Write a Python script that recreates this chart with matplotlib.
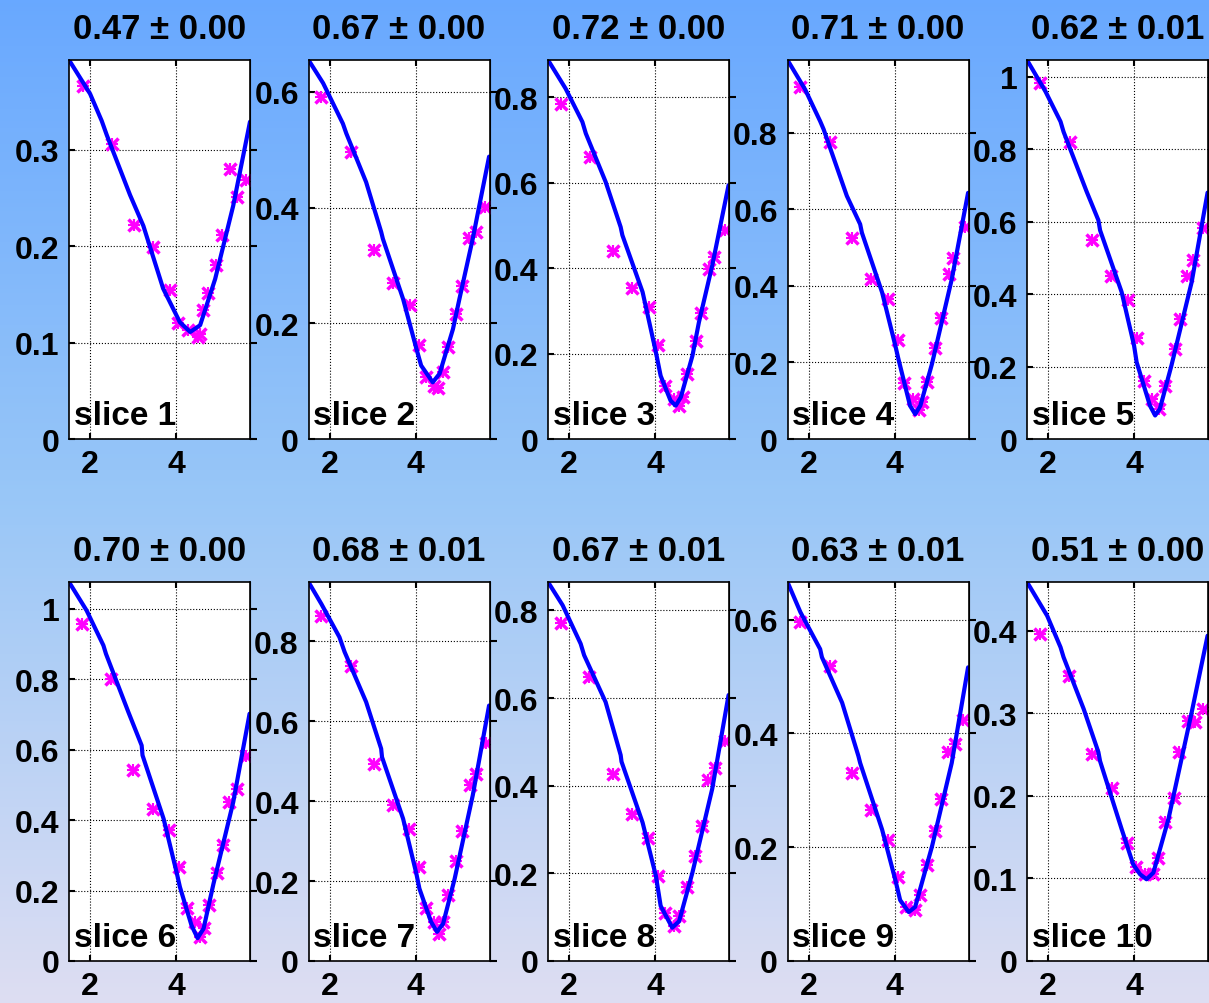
import numpy as np
import matplotlib
matplotlib.use('Agg')
import matplotlib.pyplot as plt
from matplotlib.colors import LinearSegmentedColormap
from matplotlib.ticker import FuncFormatter

# ---------------- data ----------------
fit_means = [0.47, 0.67, 0.72, 0.71, 0.62, 0.70, 0.68, 0.67, 0.63, 0.51]
fit_errs = [0.00, 0.00, 0.00, 0.00, 0.01, 0.00, 0.01, 0.01, 0.01, 0.00]
slice_names = ["slice %d" % i for i in range(1, 11)]
y_steps = [0.1, 0.2, 0.2, 0.2, 0.2, 0.2, 0.2, 0.2, 0.2, 0.1]
point_yerr = [0.006, 0.010, 0.012, 0.012, 0.014, 0.014, 0.012, 0.012, 0.010, 0.006]

curve_x1 = [1.51, 2.00, 2.27, 2.39, 2.93, 3.24, 3.70, 4.09, 4.33, 4.56, 4.91, 5.33, 5.72]
curve_y1 = [0.393, 0.358, 0.330, 0.315, 0.253, 0.221, 0.156, 0.121, 0.111, 0.118, 0.166, 0.242, 0.329]
pts_x1 = [1.83, 2.50, 3.03, 3.47, 3.86, 4.05, 4.28, 4.50, 4.56, 4.63, 4.75, 4.94, 5.06, 5.25, 5.41, 5.63]
pts_y1 = [0.366, 0.306, 0.222, 0.199, 0.154, 0.120, 0.113, 0.106, 0.109, 0.134, 0.151, 0.180, 0.212, 0.280, 0.251, 0.269]

curve_x2 = [1.51, 1.85, 2.31, 2.39, 2.85, 3.20, 3.24, 3.71, 4.02, 4.13, 4.40, 4.56, 4.87, 5.02, 5.33, 5.71]
curve_y2 = [0.655, 0.615, 0.545, 0.528, 0.444, 0.358, 0.346, 0.242, 0.156, 0.127, 0.098, 0.113, 0.190, 0.242, 0.346, 0.488]
pts_x2 = [1.81, 2.49, 3.03, 3.47, 3.86, 4.07, 4.25, 4.44, 4.53, 4.64, 4.75, 4.95, 5.09, 5.24, 5.40, 5.61]
pts_y2 = [0.591, 0.496, 0.327, 0.269, 0.231, 0.162, 0.108, 0.092, 0.088, 0.115, 0.159, 0.216, 0.264, 0.347, 0.358, 0.401]

curve_x3 = [1.51, 1.92, 2.31, 2.39, 2.85, 3.20, 3.24, 3.71, 4.02, 4.13, 4.36, 4.48, 4.60, 4.87, 5.02, 5.33, 5.71]
curve_y3 = [0.887, 0.820, 0.742, 0.715, 0.602, 0.496, 0.477, 0.344, 0.203, 0.148, 0.090, 0.078, 0.098, 0.195, 0.273, 0.406, 0.594]
pts_x3 = [1.81, 2.49, 3.03, 3.47, 3.86, 4.07, 4.22, 4.44, 4.56, 4.65, 4.75, 4.95, 5.06, 5.26, 5.37, 5.63]
pts_y3 = [0.785, 0.660, 0.441, 0.353, 0.309, 0.219, 0.125, 0.094, 0.078, 0.098, 0.152, 0.230, 0.295, 0.398, 0.426, 0.490]

curve_x4 = [1.51, 1.92, 2.27, 2.35, 2.89, 3.20, 3.24, 3.71, 4.02, 4.09, 4.36, 4.48, 4.60, 4.87, 5.33, 5.71]
curve_y4 = [0.990, 0.913, 0.830, 0.809, 0.635, 0.561, 0.539, 0.383, 0.243, 0.209, 0.087, 0.065, 0.087, 0.196, 0.417, 0.643]
pts_x4 = [1.79, 2.49, 3.01, 3.45, 3.84, 4.07, 4.22, 4.43, 4.56, 4.65, 4.75, 4.95, 5.08, 5.26, 5.37, 5.63]
pts_y4 = [0.919, 0.776, 0.524, 0.419, 0.365, 0.259, 0.146, 0.104, 0.076, 0.096, 0.148, 0.239, 0.317, 0.430, 0.472, 0.555]

curve_x5 = [1.51, 1.94, 2.29, 2.36, 2.90, 3.17, 3.21, 3.71, 4.00, 4.06, 4.37, 4.49, 4.60, 4.87, 5.34, 5.71]
curve_y5 = [1.046, 0.959, 0.876, 0.848, 0.682, 0.604, 0.576, 0.406, 0.258, 0.212, 0.092, 0.065, 0.083, 0.203, 0.433, 0.680]
pts_x5 = [1.81, 2.50, 3.02, 3.46, 3.85, 4.06, 4.23, 4.41, 4.58, 4.73, 4.95, 5.07, 5.24, 5.37, 5.61]
pts_y5 = [0.983, 0.820, 0.548, 0.449, 0.385, 0.279, 0.161, 0.111, 0.083, 0.147, 0.249, 0.330, 0.449, 0.493, 0.581]

curve_x6 = [1.51, 1.92, 2.31, 2.37, 2.89, 3.20, 3.22, 3.71, 4.02, 4.09, 4.36, 4.50, 4.64, 4.87, 5.33, 5.71]
curve_y6 = [1.076, 0.995, 0.896, 0.872, 0.707, 0.612, 0.584, 0.404, 0.248, 0.210, 0.101, 0.065, 0.092, 0.219, 0.451, 0.702]
pts_x6 = [1.81, 2.49, 3.01, 3.47, 3.84, 4.07, 4.25, 4.44, 4.56, 4.65, 4.77, 4.95, 5.09, 5.24, 5.41, 5.63]
pts_y6 = [0.957, 0.801, 0.541, 0.432, 0.371, 0.267, 0.151, 0.111, 0.068, 0.095, 0.158, 0.250, 0.330, 0.451, 0.489, 0.582]

curve_x7 = [1.51, 1.81, 2.23, 2.35, 2.85, 3.20, 3.22, 3.71, 4.02, 4.09, 4.36, 4.50, 4.64, 4.91, 5.33, 5.71]
curve_y7 = [0.948, 0.893, 0.810, 0.773, 0.648, 0.531, 0.510, 0.356, 0.218, 0.181, 0.098, 0.073, 0.093, 0.206, 0.414, 0.639]
pts_x7 = [1.81, 2.49, 3.03, 3.47, 3.84, 4.07, 4.25, 4.44, 4.54, 4.64, 4.75, 4.95, 5.09, 5.26, 5.40, 5.63]
pts_y7 = [0.864, 0.737, 0.493, 0.391, 0.331, 0.235, 0.133, 0.098, 0.068, 0.098, 0.164, 0.250, 0.324, 0.439, 0.467, 0.545]

curve_x8 = [1.51, 1.85, 2.27, 2.35, 2.85, 3.20, 3.22, 3.71, 4.02, 4.13, 4.40, 4.56, 4.87, 5.33, 5.71]
curve_y8 = [0.865, 0.812, 0.724, 0.698, 0.591, 0.470, 0.455, 0.316, 0.194, 0.126, 0.076, 0.091, 0.202, 0.393, 0.607]
pts_x8 = [1.81, 2.47, 3.03, 3.46, 3.84, 4.07, 4.22, 4.43, 4.56, 4.74, 4.93, 5.09, 5.24, 5.40, 5.63]
pts_y8 = [0.771, 0.649, 0.426, 0.336, 0.280, 0.194, 0.110, 0.080, 0.103, 0.169, 0.240, 0.309, 0.414, 0.441, 0.503]

curve_x9 = [1.51, 1.81, 2.27, 2.31, 2.78, 3.16, 3.20, 3.71, 4.02, 4.13, 4.33, 4.48, 4.87, 5.33, 5.71]
curve_y9 = [0.666, 0.613, 0.548, 0.534, 0.454, 0.360, 0.348, 0.231, 0.142, 0.107, 0.086, 0.095, 0.201, 0.348, 0.516]
pts_x9 = [1.81, 2.49, 3.01, 3.45, 3.84, 4.07, 4.26, 4.48, 4.60, 4.75, 4.95, 5.09, 5.24, 5.40, 5.60]
pts_y9 = [0.595, 0.519, 0.331, 0.266, 0.213, 0.148, 0.095, 0.089, 0.116, 0.169, 0.228, 0.284, 0.367, 0.382, 0.423]

curve_x10 = [1.51, 1.98, 2.29, 2.36, 2.83, 3.17, 3.21, 3.71, 3.98, 4.14, 4.29, 4.45, 4.80, 5.34, 5.71]
curve_y10 = [0.459, 0.418, 0.380, 0.368, 0.305, 0.253, 0.242, 0.160, 0.117, 0.105, 0.099, 0.107, 0.172, 0.301, 0.394]
pts_x10 = [1.81, 2.48, 3.02, 3.48, 3.83, 4.04, 4.25, 4.45, 4.56, 4.73, 4.93, 5.04, 5.26, 5.41, 5.61]
pts_y10 = [0.396, 0.345, 0.251, 0.210, 0.143, 0.114, 0.105, 0.105, 0.125, 0.168, 0.197, 0.253, 0.291, 0.289, 0.305]

curves_x = [curve_x1, curve_x2, curve_x3, curve_x4, curve_x5, curve_x6, curve_x7, curve_x8, curve_x9, curve_x10]
curves_y = [curve_y1, curve_y2, curve_y3, curve_y4, curve_y5, curve_y6, curve_y7, curve_y8, curve_y9, curve_y10]
points_x = [pts_x1, pts_x2, pts_x3, pts_x4, pts_x5, pts_x6, pts_x7, pts_x8, pts_x9, pts_x10]
points_y = [pts_y1, pts_y2, pts_y3, pts_y4, pts_y5, pts_y6, pts_y7, pts_y8, pts_y9, pts_y10]
x_ticks = [2, 4]
x_range = (1.51, 5.72)

# ---------------- figure ----------------
W, H = 1209, 1004
fig = plt.figure(figsize=(W / 100, H / 100), dpi=100)
FONT = ['Liberation Sans', 'DejaVu Sans']
plt.rcParams['font.family'] = FONT

# gradient background
bg = fig.add_axes([0, 0, 1, 1], zorder=-10)
cmap = LinearSegmentedColormap.from_list(
    'bg', [(0.0, (0.41, 0.66, 1.0)), (0.5, (0.60, 0.78, 0.97)), (1.0, (0.87, 0.87, 0.95))])
grad = np.linspace(0, 1, 256).reshape(-1, 1)
bg.imshow(grad, aspect='auto', cmap=cmap, extent=[0, 1, 0, 1], origin='upper')
bg.set_axis_off()

ax_w, ax_h = 181, 379
lefts = [69 + 239.5 * i for i in range(5)]
tops = [61, 583]

def fmt(v, pos):
    return ('%g' % round(v, 6))

for k in range(10):
    r, c = divmod(k, 5)
    left = lefts[c]
    top = tops[r]
    ax = fig.add_axes([left / W, 1 - (top + ax_h) / H, ax_w / W, ax_h / H])
    ax.set_facecolor('white')
    ax.errorbar(points_x[k], points_y[k], xerr=0.06, yerr=point_yerr[k], fmt='x',
                color='#ff00ff', ms=8, mew=2.5, elinewidth=1.5, capsize=0, zorder=3)
    ax.plot(points_x[k], points_y[k], linestyle='none', marker='+', color='#ff00ff',
            ms=9, mew=1.5, zorder=3)
    ax.plot(curves_x[k], curves_y[k], color='#0000ff', lw=3, zorder=4,
            solid_joinstyle='round', solid_capstyle='round')
    ymax = max(curves_y[k])
    ax.set_xlim(*x_range)
    ax.set_ylim(0, ymax)
    ax.set_xticks(x_ticks)
    ax.set_yticks(np.arange(0, ymax + 1e-9, y_steps[k]))
    ax.yaxis.set_major_formatter(FuncFormatter(fmt))
    ax.grid(True, color='black', linestyle=':', linewidth=0.8)
    ax.set_axisbelow(False)
    for sp in ax.spines.values():
        sp.set_linewidth(1.2)
        sp.set_zorder(6)
    ax.tick_params(direction='in', length=4, width=1.5, top=True, right=False,
                   labelsize=23, pad=7)
    for lab in ax.get_xticklabels() + ax.get_yticklabels():
        lab.set_fontweight('bold')
    sec = ax.secondary_yaxis('right')
    sec.set_yticks(np.arange(0, ymax + 1e-9, y_steps[k]))
    sec.tick_params(direction='out', length=5, width=1.5, labelright=False)
    ax.set_title("%.2f ± %.2f" % (fit_means[k], fit_errs[k]), fontsize=25,
                 fontweight='bold', pad=16)
    ax.text(0.025, 0.022, slice_names[k], transform=ax.transAxes, fontsize=24,
            fontweight='bold', ha='left', va='bottom', zorder=7)

fig.savefig('out.png', dpi=100)
